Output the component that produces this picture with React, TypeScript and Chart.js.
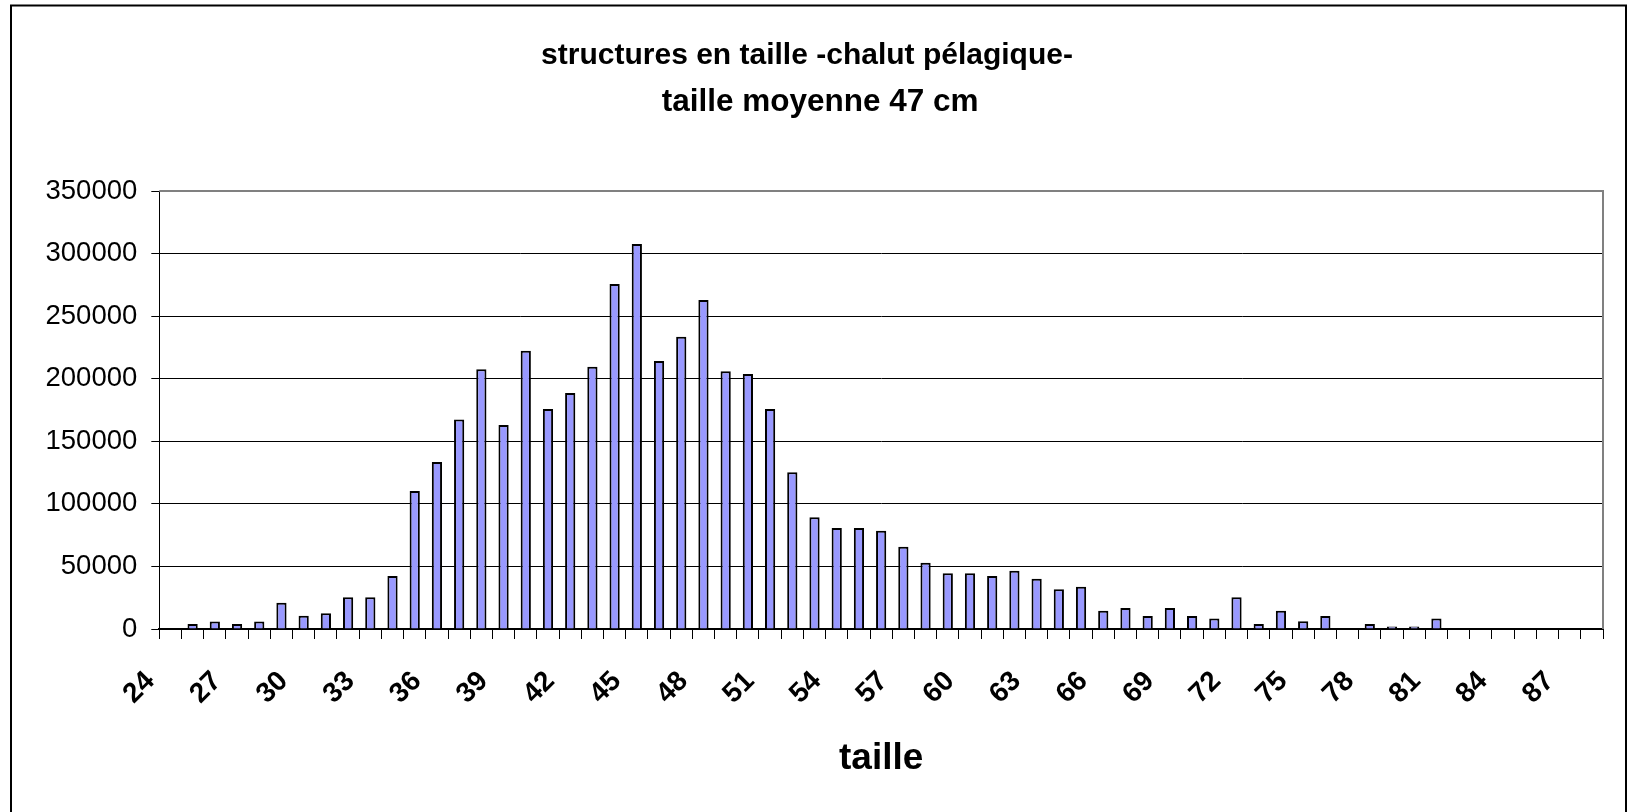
import React, { useEffect, useRef } from 'react';
import { Chart, registerables } from 'chart.js';

Chart.register(...registerables);

// ---- data ----
const sizes: string[] = [
  '24', '25', '26', '27', '28', '29', '30', '31', '32', '33',
  '34', '35', '36', '37', '38', '39', '40', '41', '42', '43',
  '44', '45', '46', '47', '48', '49', '50', '51', '52', '53',
  '54', '55', '56', '57', '58', '59', '60', '61', '62', '63',
  '64', '65', '66', '67', '68', '69', '70', '71', '72', '73',
  '74', '75', '76', '77', '78', '79', '80', '81', '82', '83',
  '84', '85', '86', '87', '88',
];

const counts: (number | null)[] = [
  null, 4000, 6000, 4000, 6000, 21000, 10500, 12500, 25300, 25300,
  42300, 110300, 133500, 167500, 207500, 163000, 222400, 175800, 188600, 209600,
  275700, 307700, 214200, 233600, 262900, 205900, 203800, 175800, 125200, 89200,
  80700, 80700, 78600, 65800, 53000, 44500, 44500, 42300, 46600, 40200,
  31700, 33800, 14600, 16800, 10400, 16800, 10400, 8300, 25300, 4000,
  14600, 6100, 10400, null, 4000, 1900, 1900, 8300, null, null,
  null, null, null, null, null,
];

const xTickLabels: string[] = [
  '24', '27', '30', '33', '36', '39', '42', '45', '48', '51', '54',
  '57', '60', '63', '66', '69', '72', '75', '78', '81', '84', '87',
];

const titleLine1 = 'structures en taille -chalut pélagique-';
const titleLine2 = '   taille moyenne 47 cm';
const xAxisTitle = 'taille';
const yMin = 0;
const yMax = 350000;
const yStep = 50000;

const FONT = "Arial, 'Liberation Sans', sans-serif";

const framePlugin = {
  id: 'frame',
  afterDraw(chart: any) {
    const { ctx, chartArea: a } = chart;
    ctx.save();
    ctx.strokeStyle = '#808080';
    ctx.lineWidth = 2;
    ctx.beginPath();
    ctx.moveTo(a.left, a.top);
    ctx.lineTo(a.right, a.top);
    ctx.lineTo(a.right, a.bottom);
    ctx.stroke();
    ctx.strokeStyle = '#000';
    ctx.lineWidth = 2;
    ctx.strokeRect(11, 5.5, chart.width - 12, chart.height + 40);
    ctx.restore();
  },
};

export default function App() {
  const ref = useRef<HTMLCanvasElement | null>(null);

  useEffect(() => {
    if (!ref.current) return;
    const chart = new Chart(ref.current, {
      type: 'bar',
      data: {
        labels: sizes,
        datasets: [
          {
            data: counts,
            backgroundColor: '#9999FF',
            borderColor: '#000000',
            borderWidth: 2,
            categoryPercentage: 1,
            barPercentage: 0.46,
          },
        ],
      },
      options: {
        animation: false,
        responsive: true,
        maintainAspectRatio: false,
        devicePixelRatio: 1,
        layout: { padding: { left: 11, right: 24, top: 0, bottom: 0 } },
        plugins: {
          legend: { display: false },
          tooltip: { enabled: false },
          title: {
            display: true,
            text: titleLine1,
            color: '#000',
            font: { family: FONT, size: 30, weight: 'bold', lineHeight: 1.4 },
            padding: { top: 35, bottom: 0 },
          },
          subtitle: {
            display: true,
            text: titleLine2,
            color: '#000',
            font: { family: FONT, size: 31.5, weight: 'bold', lineHeight: 1.2 },
            padding: { top: 6.6, bottom: 69.6 },
          },
        },
        scales: {
          x: {
            grid: {
              offset: true,
              drawOnChartArea: false,
              drawTicks: true,
              tickLength: 10,
              color: '#000',
              lineWidth: 1,
            },
            border: { display: true, color: '#000', width: 2 },
            ticks: {
              autoSkip: false,
              maxRotation: 45,
              minRotation: 45,
              padding: 26,
              labelOffset: -20,
              color: '#000',
              font: { family: FONT, size: 28, weight: 'bold' },
              callback: (_v: any, i: number) => (xTickLabels.includes(sizes[i]) ? sizes[i] : ''),
            },
            title: {
              display: true,
              text: xAxisTitle,
              color: '#000',
              font: { family: FONT, size: 37, weight: 'bold', lineHeight: 1.2 },
              padding: { top: 0, bottom: 31 },
            },
            afterFit: (s: any) => {
              s.height = 183;
              s.paddingLeft = 0;
              s.paddingRight = 0;
            },
          },
          y: {
            min: yMin,
            max: yMax,
            grid: {
              color: '#000',
              lineWidth: 1,
              drawTicks: true,
              tickLength: 8,
            },
            border: { display: true, color: '#000', width: 1 },
            ticks: {
              stepSize: yStep,
              padding: 14,
              color: '#000',
              font: { family: FONT, size: 27.5 },
              callback: (v: any) => String(v),
            },
            afterFit: (s: any) => {
              s.width = 148.3;
              s.paddingTop = 0;
              s.paddingBottom = 0;
            },
          },
        },
      },
      plugins: [framePlugin],
    });
    return () => chart.destroy();
  }, []);

  return (
    <div style={{ position: 'fixed', left: 0, top: 0, width: 1627, height: 812, background: '#fff' }}>
      <canvas ref={ref} />
    </div>
  );
}
